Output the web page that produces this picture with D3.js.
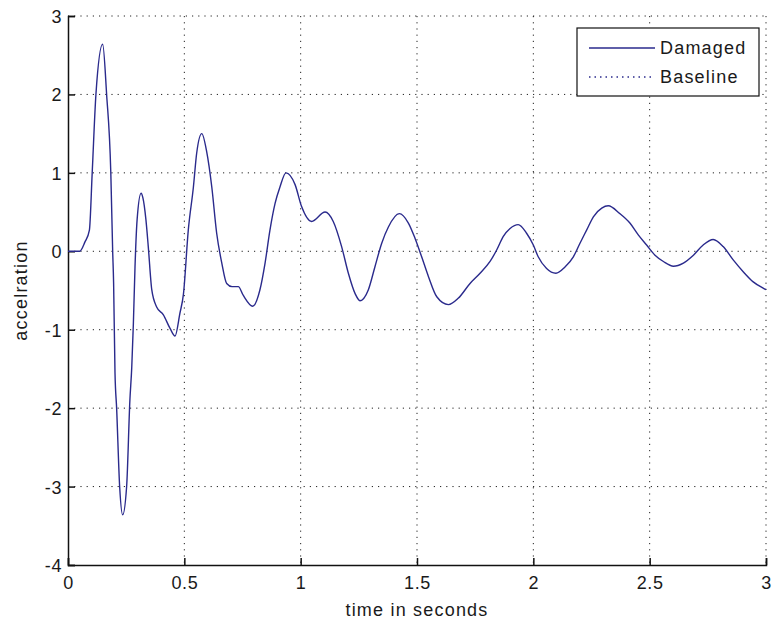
<!DOCTYPE html>
<html>
<head>
<meta charset="utf-8">
<script src="https://cdn.jsdelivr.net/npm/d3@7"></script>
<style>
  body { margin: 0; background: #fff; }
  svg text { font-family: "Liberation Sans", Arial, sans-serif; fill: #1a1a1a; letter-spacing: 1.2px; }
  svg .tick text { letter-spacing: 0.6px; }
</style>
</head>
<body>
<div id="chart"></div>
<script>
// valores (tempo em segundos, aceleração)
const timeValues = [0, 0.05, 0.073, 0.092, 0.104, 0.12, 0.149, 0.166, 0.184, 0.192, 0.196, 0.202, 0.209, 0.222, 0.235, 0.252, 0.266, 0.274, 0.281, 0.288, 0.297, 0.314, 0.322, 0.335, 0.345, 0.36, 0.381, 0.41, 0.438, 0.46, 0.481, 0.496, 0.517, 0.539, 0.553, 0.575, 0.596, 0.618, 0.639, 0.661, 0.682, 0.705, 0.732, 0.753, 0.794, 0.825, 0.847, 0.868, 0.89, 0.911, 0.937, 0.976, 1.004, 1.047, 1.105, 1.14, 1.176, 1.205, 1.234, 1.255, 1.291, 1.319, 1.348, 1.377, 1.424, 1.463, 1.491, 1.52, 1.549, 1.585, 1.635, 1.677, 1.728, 1.771, 1.814, 1.843, 1.871, 1.9, 1.935, 1.971, 2.0, 2.021, 2.057, 2.097, 2.136, 2.172, 2.2, 2.229, 2.258, 2.294, 2.322, 2.372, 2.415, 2.451, 2.487, 2.523, 2.559, 2.602, 2.645, 2.688, 2.73, 2.773, 2.816, 2.859, 2.902, 2.945, 2.988, 3.0];
const damaged = [0, 0, 0.12, 0.27, 1.0, 2.0, 2.64, 2.0, 1.0, 0.0, -0.4, -1.55, -2.0, -3.0, -3.36, -3.0, -1.9, -1.48, -0.92, -0.2, 0.4, 0.74, 0.68, 0.4, 0.06, -0.49, -0.71, -0.81, -0.98, -1.08, -0.79, -0.55, 0.27, 0.82, 1.25, 1.5, 1.27, 0.82, 0.23, -0.15, -0.41, -0.45, -0.45, -0.56, -0.7, -0.49, -0.15, 0.27, 0.61, 0.82, 1.0, 0.85, 0.57, 0.38, 0.5, 0.38, 0.06, -0.28, -0.54, -0.63, -0.49, -0.2, 0.1, 0.31, 0.48, 0.36, 0.17, -0.07, -0.32, -0.58, -0.68, -0.6, -0.41, -0.28, -0.13, 0.02, 0.19, 0.29, 0.34, 0.23, 0.08, -0.07, -0.22, -0.28, -0.2, -0.07, 0.1, 0.27, 0.44, 0.55, 0.58, 0.48, 0.36, 0.21, 0.08, -0.05, -0.13, -0.19, -0.15, -0.05, 0.08, 0.15, 0.06, -0.11, -0.26, -0.39, -0.47, -0.49];
const xTicks = [0, 0.5, 1, 1.5, 2, 2.5, 3];
const yTicks = [-4, -3, -2, -1, 0, 1, 2, 3];
const legendLabels = ["Damaged", "Baseline"];

const margin = {top: 16, right: 7, bottom: 61, left: 68};
const width = 773 - margin.left - margin.right;
const height = 626 - margin.top - margin.bottom;

const svg = d3.select("#chart")
    .append("svg")
    .attr("width", 773)
    .attr("height", 626)
    .append("g")
    .attr("transform", `translate(${margin.left},${margin.top})`);

const x = d3.scaleLinear().domain([0, 3]).range([0, width]);
const y = d3.scaleLinear().domain([-4, 3]).range([height, 0]);

// grade pontilhada
svg.append("g")
    .selectAll("line")
    .data(xTicks.filter(d => d > 0))
    .join("line")
    .attr("x1", d => x(d)).attr("x2", d => x(d))
    .attr("y1", 0).attr("y2", height)
    .attr("stroke", "#222")
    .attr("stroke-width", 1)
    .attr("stroke-dasharray", "1.2,5");

svg.append("g")
    .selectAll("line")
    .data(yTicks.filter(d => d > -4))
    .join("line")
    .attr("x1", 0).attr("x2", width)
    .attr("y1", d => y(d)).attr("y2", d => y(d))
    .attr("stroke", "#222")
    .attr("stroke-width", 1)
    .attr("stroke-dasharray", "1.2,5");

// eixos (hífen simples como no original)
const fmt = d => String(d);
const xAxis = svg.append("g")
    .attr("transform", `translate(0,${height})`)
    .call(d3.axisBottom(x).tickValues(xTicks).tickSize(-7).tickPadding(11).tickFormat(fmt));
const yAxis = svg.append("g")
    .call(d3.axisLeft(y).tickValues(yTicks).tickSize(-7).tickPadding(6).tickFormat(fmt));

[xAxis, yAxis].forEach(a => {
    a.select(".domain").attr("stroke", "#111").attr("stroke-width", 1.5);
    a.selectAll(".tick line").attr("stroke", "#111").attr("stroke-width", 1.5);
    a.selectAll(".tick text").attr("font-size", 18).attr("fill", "#1a1a1a")
        .attr("font-family", "Liberation Sans, Arial, sans-serif");
});
yAxis.selectAll(".tick text").attr("dy", "0.36em");

// dados
const points = timeValues.map((t, i) => ({t: t, v: damaged[i]}));
const line = d3.line()
    .x(d => x(d.t))
    .y(d => y(d.v))
    .curve(d3.curveMonotoneX);

svg.append("path")
    .datum(points)
    .attr("fill", "none")
    .attr("stroke", "#2a2a8c")
    .attr("stroke-width", 1.4)
    .attr("d", line);

// rótulos
svg.append("text")
    .attr("x", width / 2)
    .attr("y", height + 51)
    .attr("text-anchor", "middle")
    .attr("font-size", 18)
    .text("time in seconds");

svg.append("text")
    .attr("transform", `translate(${-41},${height / 2}) rotate(-90)`)
    .attr("text-anchor", "middle")
    .attr("font-size", 18)
    .text("accelration");

// legenda
const legend = svg.append("g").attr("transform", `translate(${577 - margin.left},${28 - margin.top})`);
legend.append("rect")
    .attr("width", 182).attr("height", 68)
    .attr("fill", "#fff")
    .attr("stroke", "#111")
    .attr("stroke-width", 1.2);

legendLabels.forEach((lab, i) => {
    const ly = 20 + i * 29;
    legend.append("line")
        .attr("x1", 12).attr("x2", 78)
        .attr("y1", ly).attr("y2", ly)
        .attr("stroke", "#2a2a8c")
        .attr("stroke-width", 1.4)
        .attr("stroke-dasharray", i === 1 ? "1.5,4" : null);
    legend.append("text")
        .attr("x", 83)
        .attr("y", ly + 6)
        .attr("font-size", 18)
        .text(lab);
});
</script>
</body>
</html>
